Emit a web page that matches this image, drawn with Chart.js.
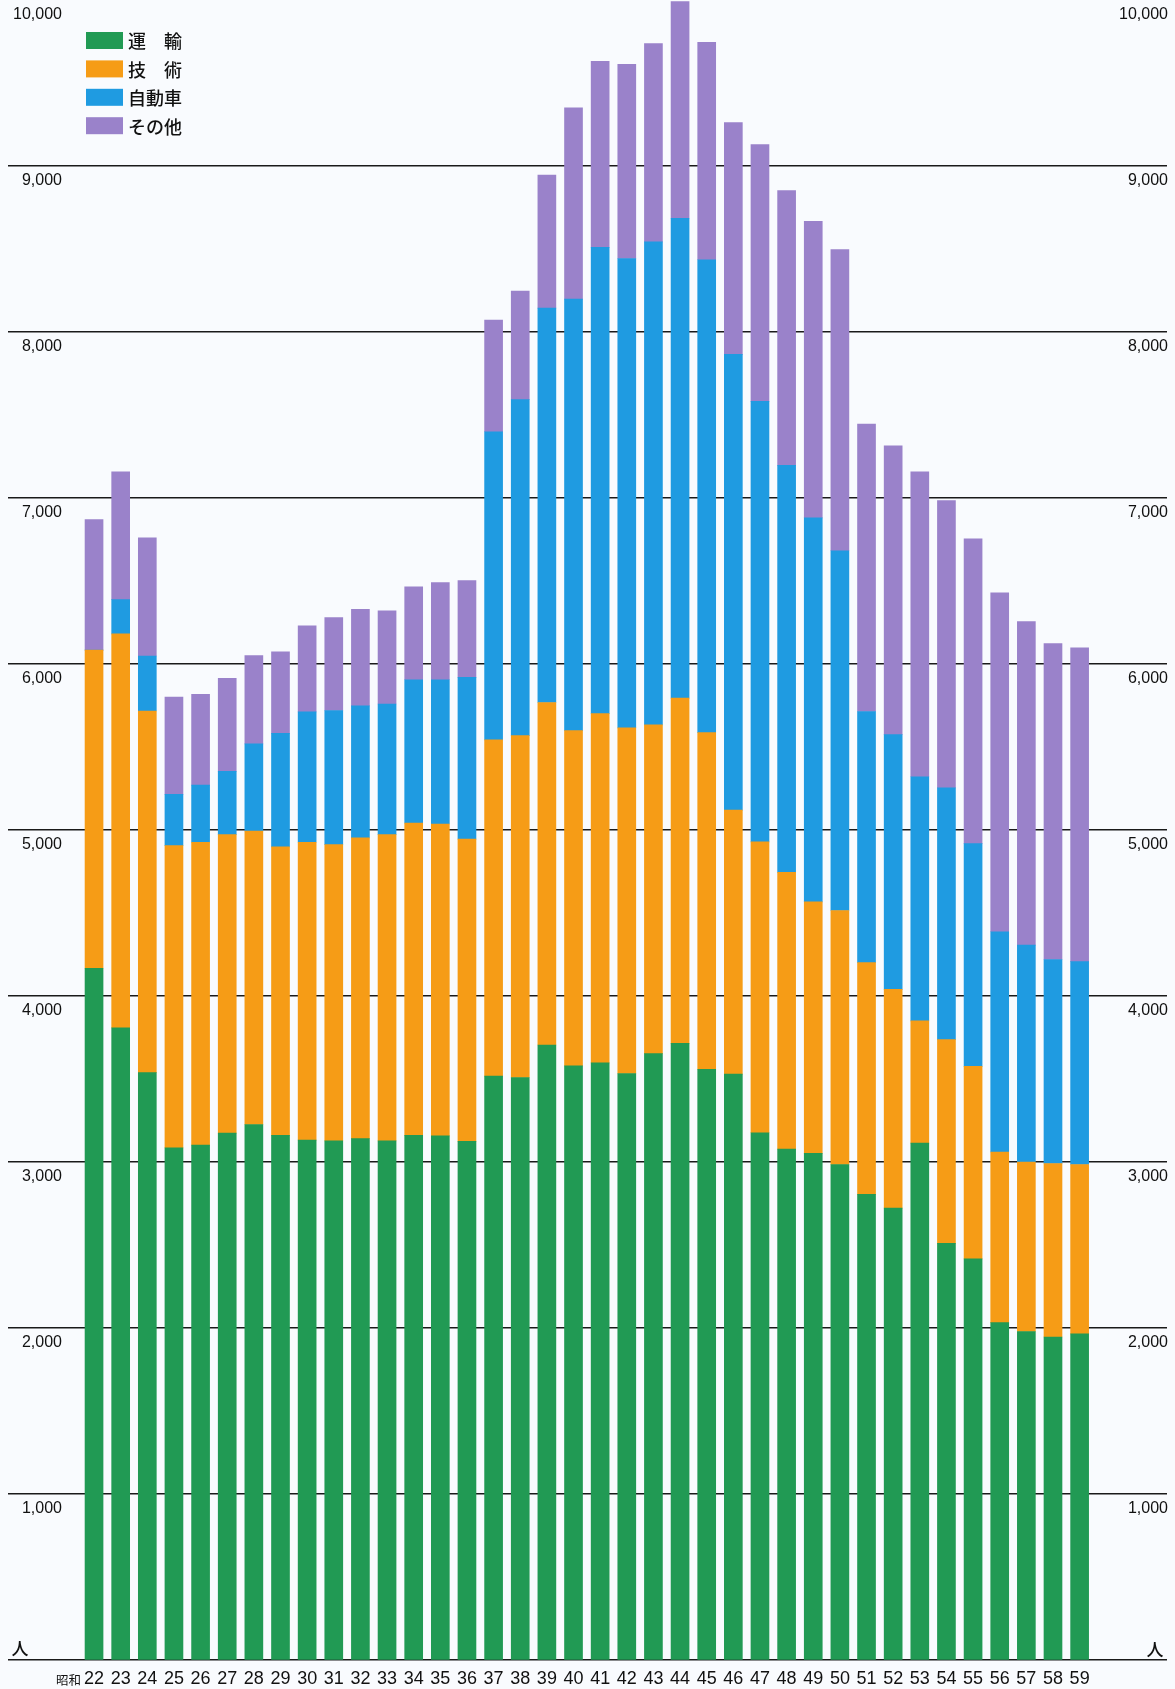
<!DOCTYPE html>
<html lang="ja">
<head>
<meta charset="utf-8">
<title>昭和22〜59年 部門別人数</title>
<script src="https://cdn.jsdelivr.net/npm/chart.js@4.4.1/dist/chart.umd.min.js"></script>
<style>
  html, body { margin: 0; padding: 0; background: #f9fbfe; }
  #wrap { width: 1175px; height: 1689px; position: relative; }
</style>
</head>
<body>
<div id="wrap"><canvas id="barChart" width="1175" height="1689"></canvas></div>
<script>
// 年度（昭和）
var years = [22, 23, 24, 25, 26, 27, 28, 29, 30, 31, 32, 33, 34, 35, 36, 37, 38, 39, 40,
             41, 42, 43, 44, 45, 46, 47, 48, 49, 50, 51, 52, 53, 54, 55, 56, 57, 58, 59];

// 人数（人）
var unyu    = [4167, 3808, 3538, 3085, 3102, 3174, 3226, 3160, 3132, 3127, 3141, 3127, 3160, 3157, 3124, 3517, 3509, 3705, 3579,
               3597, 3533, 3653, 3715, 3559, 3529, 3176, 3078, 3052, 2985, 2805, 2722, 3114, 2510, 2416, 2032, 1979, 1946, 1965];
var gijutsu = [1917, 2373, 2179, 1821, 1824, 1798, 1768, 1738, 1794, 1785, 1812, 1845, 1881, 1879, 1821, 2026, 2060, 2063, 2020,
               2104, 2082, 1980, 2079, 2028, 1591, 1752, 1667, 1515, 1530, 1396, 1318, 736, 1227, 1160, 1028, 1020, 1045, 1020];
var jidosha = [0, 207, 331, 309, 344, 381, 525, 684, 786, 808, 795, 787, 864, 869, 974, 1856, 2024, 2376, 2599,
               2809, 2828, 2910, 2891, 2848, 2745, 2654, 2452, 2313, 2167, 1513, 1535, 1471, 1517, 1342, 1327, 1307, 1229, 1222];
var sonota  = [786, 769, 712, 585, 547, 560, 532, 491, 518, 560, 582, 562, 560, 585, 584, 673, 654, 802, 1152,
               1120, 1170, 1194, 1305, 1310, 1396, 1547, 1655, 1786, 1814, 1731, 1740, 1837, 1730, 1836, 2042, 1949, 1903, 1891];

var seriesNames = ["運\u3000輸", "技\u3000術", "自動車", "その他"];
var seriesColors = ["#219a54", "#f69c16", "#1f9be1", "#9a82ca"];
var yTickValues = [1000, 2000, 3000, 4000, 5000, 6000, 7000, 8000, 9000, 10000];
var eraLabel = "昭和";
var unitLabel = "人";

var numFont = '"Liberation Sans", Arial, sans-serif';
var narrowFont = '"Liberation Sans Narrow", "Liberation Sans", Arial, sans-serif';
var jpFont = '"Noto Sans CJK JP", "Noto Sans", sans-serif';

function fmtTick(v) {
    return yTickValues.indexOf(v) >= 0 ? v.toLocaleString("en-US") : "";
}

function fitY(scale) {
    scale.width = 8;
    scale.paddingTop = 0;
    scale.paddingBottom = 0;
}

// 凡例・「昭和」・「人」
var decor = {
    id: "decor",
    afterDraw: function (chart) {
        var ctx = chart.ctx;
        var xs = chart.scales.x;
        ctx.save();
        chart.data.datasets.forEach(function (ds, i) {
            var top = 32 + i * 28.4;
            ctx.fillStyle = ds.backgroundColor;
            ctx.fillRect(86, top, 37, 17);
            ctx.fillStyle = "#111";
            ctx.font = '500 18px ' + jpFont;
            ctx.textBaseline = "middle";
            ctx.textAlign = "left";
            ctx.fillText(ds.label, 128, top + 9.5);
        });
        ctx.font = '12.5px ' + jpFont;
        ctx.textAlign = "right";
        ctx.fillText(eraLabel, xs.getPixelForValue(years[0]) - 13, 1680);
        ctx.font = '500 17px ' + jpFont;
        ctx.textAlign = "center";
        ctx.fillText(unitLabel, 20, 1649);
        ctx.fillText(unitLabel, 1155, 1650);
        ctx.restore();
    }
};

var chartData = {
    labels: years,
    datasets: [unyu, gijutsu, jidosha, sonota].map(function (arr, i) {
        return {
            label: seriesNames[i],
            data: arr,
            backgroundColor: seriesColors[i],
            borderWidth: 0,
            barThickness: 18
        };
    })
};

var chartOptions = {
    responsive: false,
    animation: false,
    devicePixelRatio: 1,
    layout: { padding: 0 },
    plugins: {
        legend: { display: false },
        tooltip: { enabled: false }
    },
    scales: {
        x: {
            type: "linear",
            stacked: true,
            offset: false,
            min: 18.77,
            max: 62.28,
            grid: { display: false, drawTicks: false, offset: false },
            border: { display: false },
            ticks: {
                stepSize: 1,
                maxTicksLimit: 100,
                autoSkip: false,
                maxRotation: 0,
                includeBounds: false,
                padding: 8,
                color: "#111",
                font: { family: narrowFont, size: 18 },
                callback: function (v) { return years.indexOf(v) >= 0 ? String(v) : ""; }
            },
            afterFit: function (scale) {
                scale.height = 29;
                scale.paddingLeft = 0;
                scale.paddingRight = 0;
            }
        },
        y: {
            stacked: true,
            position: "left",
            min: 0,
            max: 10000,
            z: 1,
            grid: {
                drawTicks: false,
                lineWidth: 1.4,
                color: function (c) { return c.tick && c.tick.value === 10000 ? "rgba(0,0,0,0)" : "#1a1a1a"; }
            },
            border: { display: false },
            ticks: {
                stepSize: 1000,
                mirror: true,
                crossAlign: "far",
                padding: 5,
                labelOffset: 15,
                color: "#111",
                font: { family: numFont, size: 16 },
                callback: fmtTick
            },
            afterFit: fitY
        },
        y2: {
            position: "right",
            min: 0,
            max: 10000,
            z: 1,
            grid: { display: false, drawTicks: false },
            border: { display: false },
            ticks: {
                stepSize: 1000,
                mirror: true,
                padding: 1,
                labelOffset: 15,
                color: "#111",
                font: { family: numFont, size: 16 },
                callback: fmtTick
            },
            afterFit: fitY
        }
    }
};

var ctx = document.getElementById("barChart").getContext("2d");
new Chart(ctx, { type: "bar", data: chartData, options: chartOptions, plugins: [decor] });
</script>
</body>
</html>
